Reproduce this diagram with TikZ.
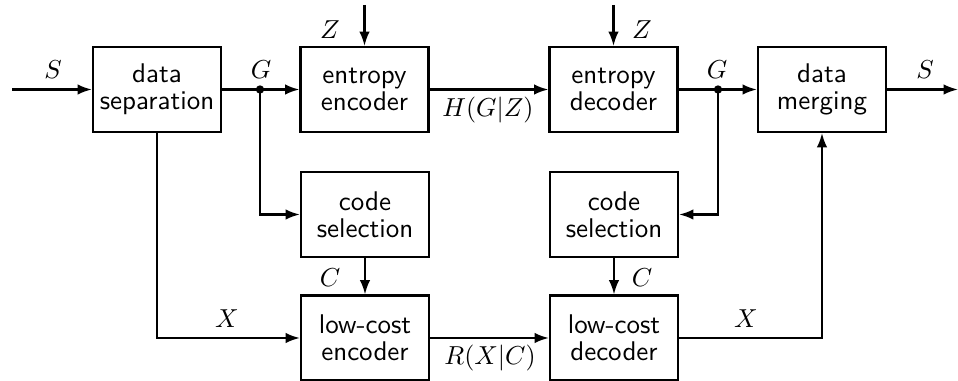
\documentclass[tikz,border=0pt]{standalone}
\usetikzlibrary{arrows.meta}
\begin{document}
\begin{tikzpicture}[x=0.385pt,y=-0.385pt,
  blockbox/.style={draw,line width=0.8pt,minimum width=49.3pt,minimum height=32.7pt,
    align=center,inner sep=0pt,font=\sffamily\fontsize{10.4}{10.4}\selectfont},
  flow/.style={line width=0.8pt,-{Latex[length=5.5pt,width=4pt]}},
  wire/.style={line width=0.8pt},
  jdot/.style={circle,fill,inner sep=0pt,minimum size=3.2pt},
  lbl/.style={inner sep=0pt,font=\fontsize{10.4}{12}\selectfont}]
\useasboundingbox (0,0) rectangle (958,381);

% blocks
\node[blockbox] (sep)   at (157,89.5)  {data\\separation};
\node[blockbox] (enc)   at (364.5,89.5) {entropy\\encoder};
\node[blockbox] (dec)   at (613.5,89.5) {entropy\\decoder};
\node[blockbox] (merge) at (822,89.5)  {data\\merging};
\node[blockbox] (csl)   at (365,214.5) {code\\selection};
\node[blockbox] (csr)   at (614,214.5) {code\\selection};
\node[blockbox] (lce)   at (365,338)   {low-cost\\encoder};
\node[blockbox] (lcd)   at (614,338)   {low-cost\\decoder};

% free ends and branch points
\coordinate (in)  at (12,89.5);
\coordinate (out) at (958,89.5);
\coordinate (zl)  at (364.5,5);
\coordinate (zr)  at (613.5,5);
\coordinate (jl)  at (260,89.5);
\coordinate (jr)  at (718,89.5);

% main path
\draw[flow] (in) -- (sep.west);
\draw[wire] (sep.east) -- (jl);
\draw[flow] (jl) -- (enc.west);
\draw[flow] (enc.east) -- (dec.west);
\draw[wire] (dec.east) -- (jr);
\draw[flow] (jr) -- (merge.west);
\draw[flow] (merge.east) -- (out);
\draw[flow] (zl) -- (enc.north);
\draw[flow] (zr) -- (dec.north);

% branches
\draw[flow] (jl) |- (csl.west);
\draw[flow] (jr) |- (csr.east);
\draw[flow] (sep.south) |- (lce.west);
\draw[flow] (csl.south) -- (lce.north);
\draw[flow] (csr.south) -- (lcd.north);
\draw[flow] (lce.east) -- (lcd.west);
\draw[flow] (lcd.east) -| (merge.south);

\node[jdot] (dl) at (jl) {};
\node[jdot] (dr) at (jr) {};

% signal labels
\node[lbl] (ls1) at (53,70)   {$S$};
\node[lbl] (lg1) at (261,70)  {$G$};
\node[lbl] (lz1) at (330,30)  {$Z$};
\node[lbl] (lz2) at (642,30)  {$Z$};
\node[lbl] (lh)  at (488,110) {$H(G|Z)$};
\node[lbl] (lg2) at (717,70)  {$G$};
\node[lbl] (ls2) at (925,70)  {$S$};
\node[lbl] (lc1) at (330,278) {$C$};
\node[lbl] (lc2) at (642,278) {$C$};
\node[lbl] (lx1) at (227,319) {$X$};
\node[lbl] (lx2) at (746,319) {$X$};
\node[lbl] (lr)  at (490,358) {$R(X|C)$};
\end{tikzpicture}
\end{document}
